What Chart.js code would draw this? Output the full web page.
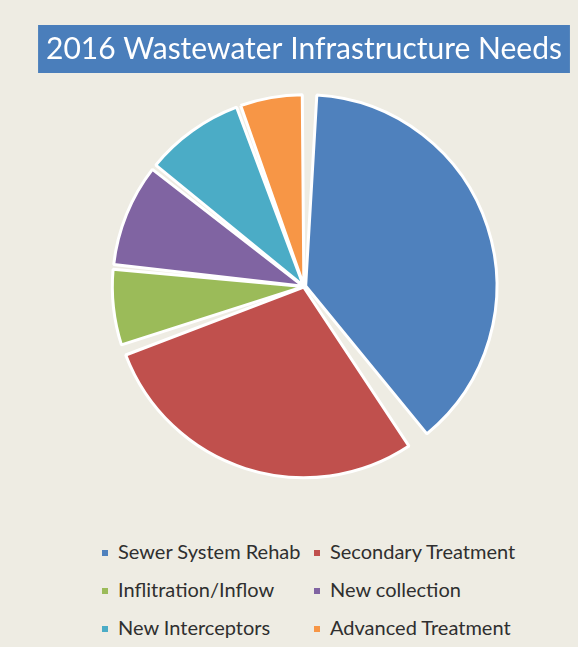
<!DOCTYPE html>
<html>
<head>
<meta charset="utf-8">
<script src="https://cdn.jsdelivr.net/npm/chart.js@4"></script>
<style>
  body { margin: 0; background: #eeece3; }
  #wrap { position: relative; width: 578px; height: 647px; }
  #chartBox { position: absolute; left: 0; top: 0; width: 578px; height: 520px; }
  #legend { position: absolute; left: 0; top: 532px; width: 578px; font-family: Lato, "Open Sans", sans-serif; font-size: 20px; color: #2f2f2f; }
  .item { position: absolute; height: 38px; line-height: 38px; white-space: nowrap; }
  .item span.box { display: inline-block; width: 6px; height: 6px; margin-right: 10px; vertical-align: middle; position: relative; top: -1px; }
</style>
</head>
<body>
<div id="wrap">
  <div id="chartBox"><canvas id="myChart"></canvas></div>
  <div id="legend"></div>
</div>
<script>
var labels = ["Sewer System Rehab", "Secondary Treatment", "Inflitration/Inflow", "New collection", "New Interceptors", "Advanced Treatment"];
var values = [40.0, 29.9, 6.7, 9.1, 8.8, 5.5];
var colors = ["#4f81bd", "#c0504d", "#9bbb59", "#8064a2", "#4bacc6", "#f79646"];

var titleText = "2016 Wastewater Infrastructure Needs";

// blue rectangle behind the title
var titleBox = {
  id: "titleBox",
  beforeDraw: function (chart) {
    var c = chart.ctx;
    var t = chart.titleBlock;
    c.save();
    c.font = "30px Lato, 'Open Sans', sans-serif";
    var w = c.measureText(titleText).width;
    var cx = t.left + t.width / 2;
    c.fillStyle = "#4a7ebb";
    c.fillRect(cx - w / 2 - 8, 25, w + 16, 48);
    c.restore();
  }
};

var ctx = document.getElementById("myChart").getContext("2d");

var myChart = new Chart(ctx, {
  type: "pie",
  data: {
    labels: labels,
    datasets: [{
      data: values,
      backgroundColor: colors,
      borderColor: "#ffffff",
      borderWidth: 3,
      spacing: 9,
      offset: [7, 3, 3, 3, 3, 3]
    }]
  },
  options: {
    responsive: true,
    maintainAspectRatio: false,
    animation: false,
    radius: 186,
    layout: { padding: { left: 30, right: 0, top: 0, bottom: 21 } },
    plugins: {
      legend: { display: false },
      tooltip: { enabled: false },
      title: {
        display: true,
        text: titleText,
        color: "#ffffff",
        font: { family: "Lato, 'Open Sans', sans-serif", size: 30, weight: "normal", lineHeight: 1.1 },
        padding: { top: 33, bottom: 8 }
      }
    }
  },
  plugins: [titleBox]
});

// two column legend under the pie
var legend = document.getElementById("legend");
var colX = [102, 314];
for (var i = 0; i < labels.length; i++) {
  var d = document.createElement("div");
  d.className = "item";
  d.style.left = colX[i % 2] + "px";
  d.style.top = Math.floor(i / 2) * 38 + "px";
  d.innerHTML = '<span class="box" style="background:' + colors[i] + '"></span>' + labels[i];
  legend.appendChild(d);
}
</script>
</body>
</html>
